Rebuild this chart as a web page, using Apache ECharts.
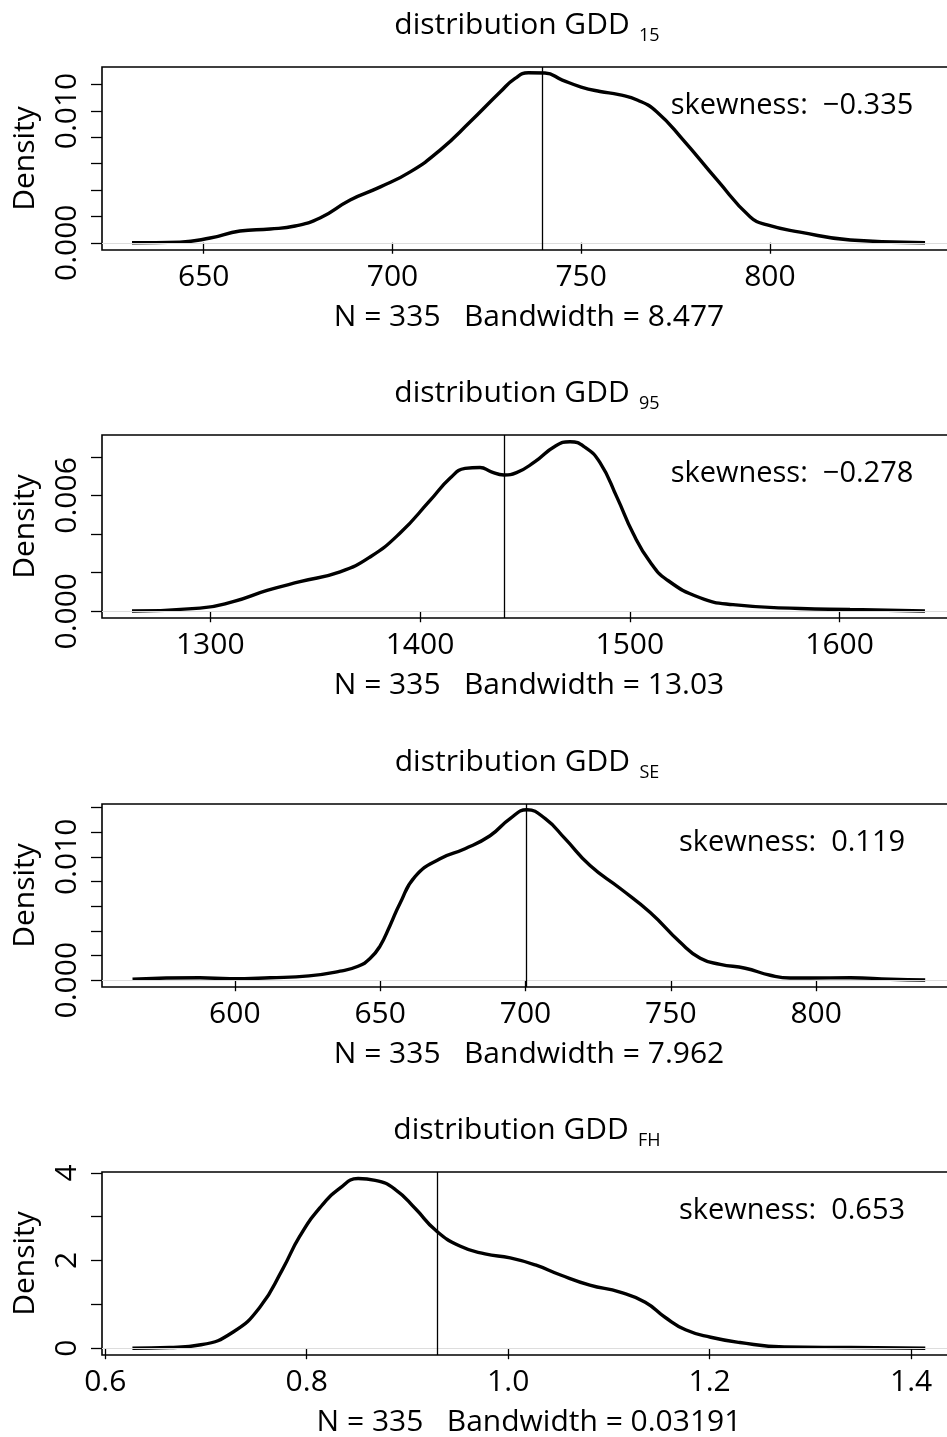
<!DOCTYPE html>
<html>
<head>
<meta charset="utf-8">
<script src="https://cdn.jsdelivr.net/npm/echarts@6/dist/echarts.min.js"></script>
<style>
html,body{margin:0;padding:0;background:#fff;}
#c{width:947px;height:1437px;}
</style>
</head>
<body>
<div id="c"></div>
<script>
// ---------- data ----------
const N = 335;
const titleSubs = ['15', '95', 'SE', 'FH'];
const skewness = ['\u22120.335', '\u22120.278', '0.119', '0.653'];
const bandwidths = ['8.477', '13.03', '7.962', '0.03191'];
const vlines = [739.7, 1440.1, 700.4, 0.9285];

const xTicks1 = [650, 700, 750, 800];
const xTicks2 = [1300, 1400, 1500, 1600];
const xTicks3 = [600, 650, 700, 750, 800];
const xTicks4 = [0.6, 0.8, 1.0, 1.2, 1.4];

const yTicks1 = [0, 0.002, 0.004, 0.006, 0.008, 0.010, 0.012];
const yLabels1 = [0, 0.010];
const yTicks2 = [0, 0.002, 0.004, 0.006, 0.008];
const yLabels2 = [0, 0.006];
const yTicks3 = [0, 0.002, 0.004, 0.006, 0.008, 0.010, 0.012, 0.014];
const yLabels3 = [0, 0.010];
const yTicks4 = [0, 1, 2, 3, 4];
const yLabels4 = [0, 2, 4];

const xRange1 = [623.05, 849.3];
const xRange2 = [1248.4, 1655.5];
const xRange3 = [554.3, 848.1];
const xRange4 = [0.5968, 1.4445];
const yRange1 = [-0.00055, 0.01334];
const yRange2 = [-0.00035, 0.00913];
const yRange3 = [-0.00055, 0.01428];
const yRange4 = [-0.155, 4.02];

// density curves
const x1 = [631.0, 643.7, 651.7, 659.6, 667.6, 674.2, 680.8, 688.8, 696.8, 704.7, 712.7, 720.6, 728.6, 732.5, 736.0, 740.4, 745.0, 750.0, 755.0, 760.0, 765.0, 770.0, 777.0, 786.0, 794.8, 799.3, 808.0, 821.3, 841.1];
const d1 = [0.00000, 0.00005, 0.00036, 0.00089, 0.00104, 0.00127, 0.00188, 0.00325, 0.00424, 0.00538, 0.00705, 0.00918, 0.01146, 0.01248, 0.01290, 0.01288, 0.01235, 0.01182, 0.01148, 0.01124, 0.01082, 0.00995, 0.00781, 0.00477, 0.00196, 0.00135, 0.00081, 0.00021, 0.00000];

const x2 = [1262.7, 1295.1, 1310.9, 1327.1, 1342.8, 1361.9, 1376.2, 1390.5, 1404.8, 1414.4, 1421.5, 1428.6, 1434.0, 1440.0, 1446.0, 1454.8, 1464.4, 1471.5, 1478.6, 1485.8, 1493.9, 1501.5, 1509.6, 1517.7, 1533.5, 1549.2, 1581.1, 1605.0, 1640.7];
const d2 = [0.00001, 0.00016, 0.00050, 0.00108, 0.00153, 0.00204, 0.00281, 0.00405, 0.00574, 0.00690, 0.00740, 0.00745, 0.00722, 0.00706, 0.00718, 0.00775, 0.00855, 0.00878, 0.00850, 0.00770, 0.00590, 0.00405, 0.00256, 0.00163, 0.00070, 0.00034, 0.00014, 0.00009, 0.00001];

const x3 = [564.8, 588.0, 598.3, 612.1, 625.5, 636.2, 642.4, 646.5, 649.9, 653.4, 656.8, 662.0, 670.6, 679.2, 687.8, 694.7, 700.5, 706.8, 713.6, 722.2, 732.6, 742.9, 753.2, 760.1, 767.0, 775.6, 784.2, 791.1, 798.0, 811.8, 825.5, 837.5];
const d3 = [0.00008, 0.00020, 0.00012, 0.00020, 0.00035, 0.00073, 0.00113, 0.00175, 0.00275, 0.00444, 0.00622, 0.00840, 0.00985, 0.01066, 0.01171, 0.01310, 0.01381, 0.01309, 0.01147, 0.00929, 0.00743, 0.00549, 0.00307, 0.00178, 0.00129, 0.00097, 0.00040, 0.00018, 0.00018, 0.00020, 0.00008, 0.00002];

const x4 = [0.627, 0.664, 0.695, 0.727, 0.754, 0.776, 0.793, 0.813, 0.833, 0.851, 0.868, 0.888, 0.908, 0.928, 0.952, 0.977, 1.002, 1.027, 1.052, 1.081, 1.111, 1.136, 1.156, 1.176, 1.201, 1.230, 1.274, 1.340, 1.414];
const d4 = [0.00, 0.016, 0.078, 0.37, 0.95, 1.80, 2.55, 3.20, 3.65, 3.87, 3.83, 3.62, 3.18, 2.69, 2.33, 2.15, 2.06, 1.90, 1.67, 1.44, 1.28, 1.05, 0.70, 0.42, 0.25, 0.13, 0.03, 0.015, 0.00];

// ---------- layout ----------
const FONT = '"Open Sans", "Noto Sans", sans-serif';
const panels = [
  {x: x1, d: d1, xt: xTicks1, yt: yTicks1, yl: yLabels1, xr: xRange1, yr: yRange1, xf: v => String(v), yf: v => v.toFixed(3)},
  {x: x2, d: d2, xt: xTicks2, yt: yTicks2, yl: yLabels2, xr: xRange2, yr: yRange2, xf: v => String(v), yf: v => v.toFixed(3)},
  {x: x3, d: d3, xt: xTicks3, yt: yTicks3, yl: yLabels3, xr: xRange3, yr: yRange3, xf: v => String(v), yf: v => v.toFixed(3)},
  {x: x4, d: d4, xt: xTicks4, yt: yTicks4, yl: yLabels4, xr: xRange4, yr: yRange4, xf: v => v.toFixed(1), yf: v => String(v)}
];
const tops = [67, 435, 804, 1172];
const H = 183, LEFT = 102, W = 854;

const grid = [], xAxis = [], yAxis = [], series = [], graphic = [];
panels.forEach((p, i) => {
  grid.push({left: LEFT, top: tops[i], width: W, height: H, show: true,
    borderColor: '#000', borderWidth: 1.6, backgroundColor: 'transparent',
    containLabel: false, outerBoundsMode: 'none'});
  xAxis.push({type: 'value', gridIndex: i, min: p.xr[0], max: p.xr[1],
    splitLine: {show: false},
    axisLine: {show: false},
    axisTick: {show: true, length: 11, inside: false, customValues: p.xt, lineStyle: {color: '#000', width: 1.3}},
    axisLabel: {show: true, customValues: p.xt, formatter: p.xf, margin: 12,
      color: '#000', fontSize: 30, fontFamily: FONT, hideOverlap: false,
      showMinLabel: true, showMaxLabel: true},
    name: 'N = ' + N + '   Bandwidth = ' + bandwidths[i],
    nameLocation: 'middle', nameGap: 52,
    nameTextStyle: {color: '#000', fontSize: 30, fontFamily: FONT}
  });
  yAxis.push({type: 'value', gridIndex: i, min: p.yr[0], max: p.yr[1],
    splitLine: {show: false},
    axisLine: {show: false},
    axisTick: {show: true, length: 11, inside: false, customValues: p.yt, lineStyle: {color: '#000', width: 1.3}},
    axisLabel: {show: true, customValues: p.yl, formatter: p.yf, rotate: 90, margin: 20,
      color: '#000', fontSize: 30, fontFamily: FONT, hideOverlap: false,
      showMinLabel: true, showMaxLabel: true},
    name: 'Density', nameLocation: 'middle', nameRotate: 90, nameGap: 62,
    nameTextStyle: {color: '#000', fontSize: 30, fontFamily: FONT}
  });
  series.push({type: 'line', xAxisIndex: i, yAxisIndex: i,
    data: p.x.map((v, k) => [v, p.d[k]]),
    smooth: 0.5, showSymbol: false, symbol: 'none',
    lineStyle: {color: '#000', width: 3.4}, silent: true,
    markLine: {silent: true, symbol: 'none', animation: false,
      label: {show: false},
      data: [
        {yAxis: 0, lineStyle: {color: '#dddddd', width: 1, type: 'solid'}},
        {xAxis: vlines[i], lineStyle: {color: '#000', width: 1.3, type: 'solid'}}
      ]}
  });
  graphic.push({type: 'text', x: 527, y: tops[i] - 42,
    style: {text: '{m|distribution GDD}{s|  ' + titleSubs[i] + '}',
      textAlign: 'center', textVerticalAlign: 'middle',
      rich: {
        m: {fontSize: 30, fontFamily: FONT, fill: '#000', lineHeight: 40},
        s: {fontSize: 18, fontFamily: FONT, fill: '#000', lineHeight: 16, verticalAlign: 'bottom'}
      }}});
  graphic.push({type: 'text', x: 792, y: tops[i] + 39,
    style: {text: 'skewness:  ' + skewness[i], textAlign: 'center', textVerticalAlign: 'middle',
      fontSize: 29, fontFamily: FONT, fill: '#000'}});
});

const chart = echarts.init(document.getElementById('c'), null, {renderer: 'canvas', width: 947, height: 1437});
chart.setOption({animation: false, backgroundColor: '#fff', grid, xAxis, yAxis, series, graphic});
</script>
</body>
</html>
